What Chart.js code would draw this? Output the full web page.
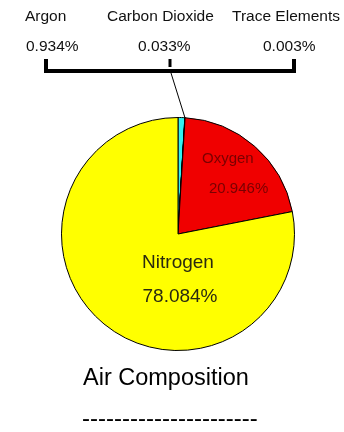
<!DOCTYPE html>
<html>
<head>
<meta charset="utf-8">
<title>Air Composition</title>
<script src="https://cdn.jsdelivr.net/npm/chart.js@4/dist/chart.umd.min.js"></script>
<style>
  html, body { margin: 0; padding: 0; background: #fff; }
  #chart { display: block; }
</style>
</head>
<body>
<canvas id="chart" width="344" height="432"></canvas>
<script>
// gases, clockwise from 12 o'clock
const gases = ['Argon', 'Carbon Dioxide', 'Trace Elements', 'Oxygen', 'Nitrogen'];
const percents = [0.934, 0.033, 0.003, 20.946, 78.084];
const sliceColors = ['#33f0f0', '#ffff00', '#ffff00', '#f00000', '#ffff00'];

// the small gases are labelled above the pie, the big ones inside it
const topLabels = ['Argon', 'Carbon Dioxide', 'Trace Elements'];
const pctText = v => v.toFixed(3) + '%';

const labelsPlugin = {
  id: 'airLabels',
  afterDraw(chart) {
    const ctx = chart.ctx;
    const arcs = chart.getDatasetMeta(0).data;
    ctx.save();

    // names + values along the top
    ctx.fillStyle = '#111';
    ctx.font = '15.5px "Liberation Sans", Arial, sans-serif';
    ctx.textBaseline = 'alphabetic';
    const nameX = [25, 107, 232];
    const valX = [26, 138, 263];
    topLabels.forEach((name, i) => {
      const idx = gases.indexOf(name);
      ctx.fillText(name, nameX[i], 21);
      ctx.fillText(pctText(percents[idx]), valX[i], 51);
    });

    // bracket
    ctx.strokeStyle = '#000';
    ctx.lineWidth = 4;
    ctx.beginPath();
    ctx.moveTo(46, 59);
    ctx.lineTo(46, 71);
    ctx.lineTo(294, 71);
    ctx.lineTo(294, 59);
    ctx.stroke();
    ctx.lineWidth = 3;
    ctx.beginPath();
    ctx.moveTo(170, 59);
    ctx.lineTo(170, 67);
    ctx.stroke();

    // leader line down to the carbon dioxide slice
    const co2 = arcs[gases.indexOf('Carbon Dioxide')];
    const p = co2.getProps(['x', 'y', 'startAngle', 'endAngle', 'outerRadius']);
    const mid = (p.startAngle + p.endAngle) / 2;
    ctx.lineWidth = 1;
    ctx.beginPath();
    ctx.moveTo(171, 73);
    ctx.lineTo(p.x + Math.cos(mid) * p.outerRadius, p.y + Math.sin(mid) * p.outerRadius);
    ctx.stroke();

    // oxygen label
    ctx.fillStyle = '#7a0000';
    ctx.font = '15px "Liberation Sans", Arial, sans-serif';
    ctx.fillText('Oxygen', 202, 163);
    ctx.fillText(pctText(percents[3]), 209, 193);

    // nitrogen label
    ctx.fillStyle = '#2a2a10';
    ctx.font = '19px "Liberation Sans", Arial, sans-serif';
    ctx.textAlign = 'center';
    ctx.fillText('Nitrogen', 178, 268);
    ctx.fillText(pctText(percents[4]), 180, 302);

    // title
    ctx.fillStyle = '#000';
    ctx.font = '23.5px "Liberation Sans", Arial, sans-serif';
    ctx.textAlign = 'left';
    ctx.fillText('Air Composition', 83, 385);
    ctx.font = '24px "Liberation Sans", Arial, sans-serif';
    ctx.fillText('----------------------', 82, 426);

    ctx.restore();
  }
};

new Chart(document.getElementById('chart'), {
  type: 'pie',
  data: {
    labels: gases,
    datasets: [{
      data: percents,
      backgroundColor: sliceColors,
      borderColor: '#000',
      borderWidth: 1
    }]
  },
  options: {
    responsive: false,
    animation: false,
    events: [],
    layout: { padding: { left: 61, right: 49, top: 117, bottom: 81 } },
    plugins: {
      legend: { display: false },
      tooltip: { enabled: false },
      title: { display: false }
    }
  },
  plugins: [labelsPlugin]
});
</script>
</body>
</html>
